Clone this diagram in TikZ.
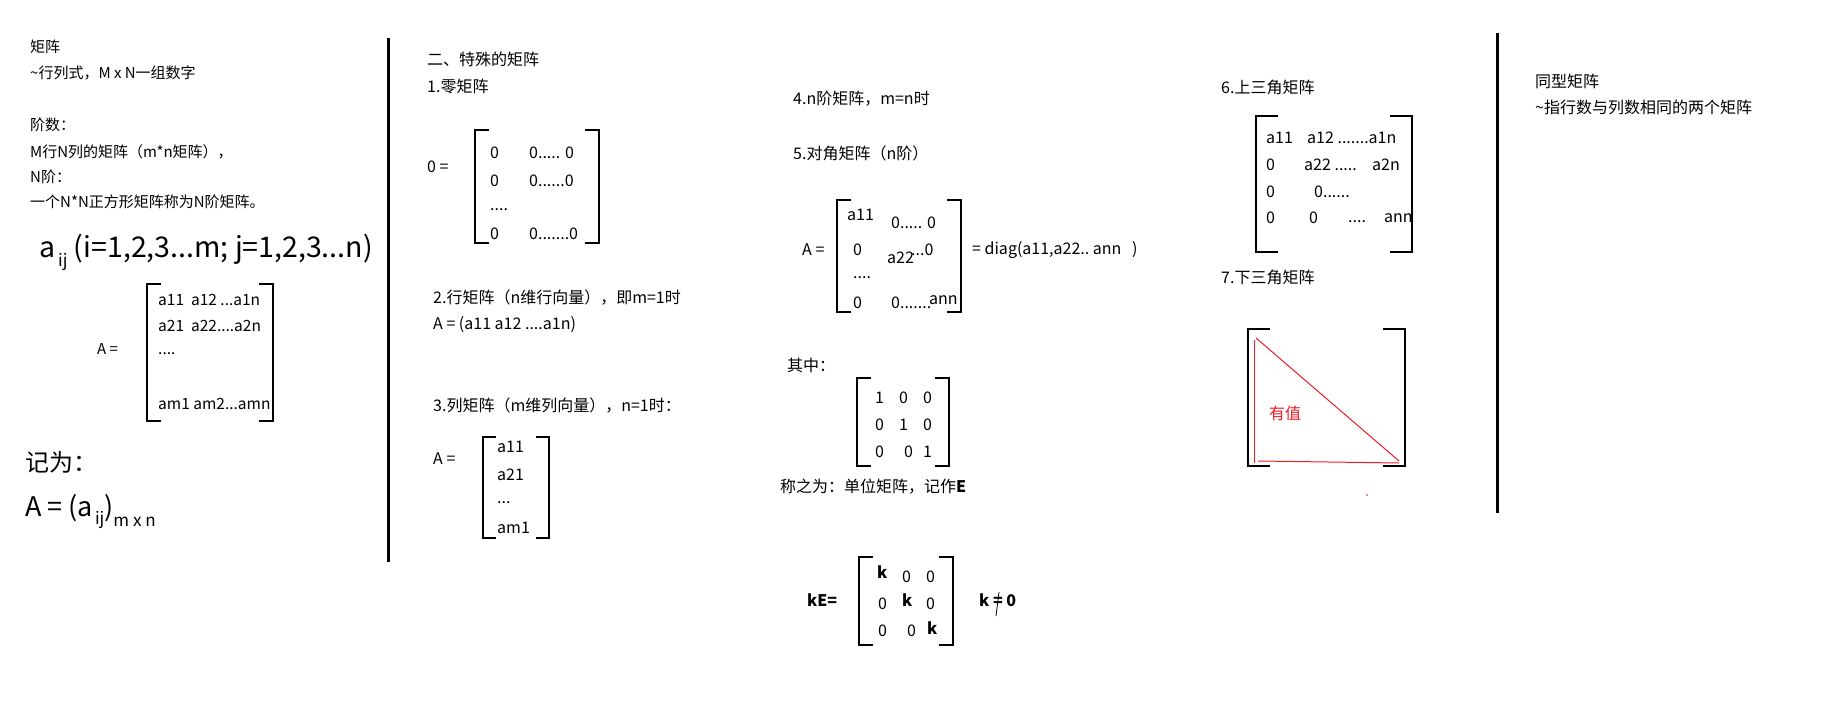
\documentclass[tikz,border=0pt]{standalone}
\usepackage{fontspec}
\setmainfont{Noto Sans CJK SC}
\usepackage{tikz}
\definecolor{mkred}{RGB}{237,28,36}
\tikzset{
  txa/.style={anchor=west, inner sep=0pt, font=\fontsize{15}{18}\selectfont},
  txb/.style={anchor=west, inner sep=0pt, font=\fontsize{16}{19}\selectfont},
  ent/.style={anchor=west, inner sep=0pt, font=\fontsize{15.5}{18}\selectfont},
  bent/.style={anchor=west, inner sep=0pt, font=\fontsize{16}{19}\selectfont\bfseries},
  brack/.style={line width=1.2pt},
  divider/.style={line width=3pt},
}
\newcommand{\mbrack}[5]{%
  \draw[brack] (#1+#5,#3) -- (#1,#3) -- (#1,#4) -- (#1+#5,#4);
  \draw[brack] (#2-#5,#3) -- (#2,#3) -- (#2,#4) -- (#2-#5,#4);}
\begin{document}
\begin{tikzpicture}[x=1pt,y=-1pt]
  \useasboundingbox (0,0) rectangle (1826,714);
  \draw[divider] (388,38) -- (388,562);
  \draw[divider] (1497,33) -- (1497,513);

  \node[txa] (jz) at (30,47) {矩阵};
  \node[txa] (jzdef) at (30,73) {\textasciitilde 行列式，M x N一组数字};
  \node[txa] (js) at (30,125) {阶数：};
  \node[txa] (jsdef) at (30,152) {M行N列的矩阵（m*n矩阵），};
  \node[txa] (nj) at (30,177) {N阶：};
  \node[txa] (njdef) at (30,202) {一个N*N正方形矩阵称为N阶矩阵。};
  \node[anchor=base west, inner sep=0pt, font=\fontsize{28.5}{32}\selectfont] (aij) at (39,258)
    {a\kern3pt\raisebox{-0.3em}{\fontsize{17}{20}\selectfont ij} (i=1,2,3...m; j=1,2,3...n)};
  \node[txa] (aeq) at (97,349) {A =};
  \mbrack{147}{273}{284}{421}{14}
  \node[ent] (a1) at (158,300) {a11\ \ a12 ...a1n};
  \node[ent] (a2) at (158,326) {a21\ \ a22....a2n};
  \node[ent] (a3) at (158,354) {....};
  \node[ent] (a4) at (158,404) {am1 am2...amn};
  \node[anchor=west, inner sep=0pt, font=\fontsize{24}{28}\selectfont] (jw) at (25,462) {记为：};
  \node[anchor=base west, inner sep=0pt, font=\fontsize{27}{31}\selectfont] (adef) at (25,516)
    {A = (a\kern2pt\raisebox{-0.3em}{\fontsize{17}{20}\selectfont ij})\raisebox{-0.4em}{\fontsize{17}{20}\selectfont m x n}};

  \node[txb] (ts) at (427,59) {二、特殊的矩阵};
  \node[txb] (lj) at (427,86) {1.零矩阵};
  \node[txb] (leq) at (427,167) {0 =};
  \mbrack{475}{599}{130}{243}{14}
  \node[txb] (l11) at (490,153) {0};
  \node[txb] (l12) at (529,153) {0..... 0};
  \node[txb] (l21) at (490,181) {0};
  \node[txb] (l22) at (529,181) {0......0};
  \node[txb] (l31) at (490,210) {....};
  \node[txb] (l41) at (490,234) {0};
  \node[txb] (l42) at (529,234) {0.......0};
  \node[txb] (hj) at (433,298) {2.行矩阵（n维行向量），即m=1时};
  \node[txb] (hjdef) at (433,325) {A = (a11 a12 ....a1n)};
  \node[txb] (lie) at (433,406) {3.列矩阵（m维列向量），n=1时：};
  \node[txb] (lieq) at (433,459) {A =};
  \mbrack{483}{549}{437}{538}{13}
  \node[txb] (c1) at (497,447) {a11};
  \node[txb] (c2) at (497,475) {a21};
  \node[txb] (c3) at (497,503) {...};
  \node[txb] (c4) at (497,528) {am1};

  \node[txb] (nj4) at (793,99) {4.n阶矩阵，m=n时};
  \node[txb] (dj) at (793,153) {5.对角矩阵（n阶）};
  \node[txb] (deq) at (802,250) {A =};
  \mbrack{837}{961}{200}{312}{14}
  \node[txb] (d11) at (847,215) {a11};
  \node[txb] (d12) at (891,223) {0..... 0};
  \node[txb] (d21) at (853,250) {0};
  \node[txb] (d22) at (887,258) {a22};
  \node[txb] (d23) at (911,250) {...0};
  \node[txb] (d31) at (853,278) {....};
  \node[txb] (d41) at (853,303) {0};
  \node[txb] (d42) at (891,303) {0.......};
  \node[txb] (d43) at (929,300) {ann};
  \node[txb] (diag) at (972,250) {= diag(a11,a22..\ ann\ \ \ )};
  \node[txb] (qz) at (787,365) {其中：};
  \mbrack{857}{949}{378}{466}{14}
  \node[txb] (e11) at (875,398) {1};
  \node[txb] (e12) at (899,398) {0};
  \node[txb] (e13) at (923,398) {0};
  \node[txb] (e21) at (875,425) {0};
  \node[txb] (e22) at (899,425) {1};
  \node[txb] (e23) at (923,425) {0};
  \node[txb] (e31) at (875,452) {0};
  \node[txb] (e32) at (904,452) {0};
  \node[txb] (e33) at (923,452) {1};
  \node[txb] (dw) at (780,487) {称之为：单位矩阵，记作\textbf{E}};
  \node[bent] (ke) at (807,600) {kE=};
  \mbrack{859}{953}{557}{645}{14}
  \node[bent] (k11) at (877,572) {k};
  \node[txb] (k12) at (902,577) {0};
  \node[txb] (k13) at (926,577) {0};
  \node[txb] (k21) at (878,604) {0};
  \node[bent] (k22) at (902,600) {k};
  \node[txb] (k23) at (926,604) {0};
  \node[txb] (k31) at (878,631) {0};
  \node[txb] (k32) at (907,631) {0};
  \node[bent] (k33) at (927,628) {k};
  \node[bent] (kne) at (979,600) {k\ =\ 0};
  \draw[line width=0.8pt] (999,592) -- (996,616);

  \node[txb] (sj) at (1221,87) {6.上三角矩阵};
  \mbrack{1256}{1412}{116}{252}{22}
  \node[txb] (u11) at (1266,138) {a11};
  \node[txb] (u12) at (1307,138) {a12 .......a1n};
  \node[txb] (u21) at (1266,165) {0};
  \node[txb] (u22) at (1304,165) {a22 .....};
  \node[txb] (u23) at (1372,165) {a2n};
  \node[txb] (u31) at (1266,192) {0};
  \node[txb] (u32) at (1314,192) {0......};
  \node[txb] (u41) at (1266,218) {0};
  \node[txb] (u42) at (1309,218) {0};
  \node[txb] (u43) at (1348,222) {....};
  \node[txb] (u44) at (1384,218) {ann};
  \node[txb] (xj) at (1221,277) {7.下三角矩阵};
  \mbrack{1248}{1405}{329}{466}{22}
  \draw[mkred, line width=1pt] (1254,340) -- (1254,463);
  \draw[mkred, line width=1pt] (1256,338) -- (1399,461);
  \draw[mkred, line width=1pt] (1258,461) -- (1399,463);
  \node[txb, text=mkred] (yz) at (1269,413) {有值};
  \fill[mkred] (1367,495) circle (0.8);

  \node[txb] (tx) at (1535,81) {同型矩阵};
  \node[txb] (txdef) at (1535,107) {\textasciitilde 指行数与列数相同的两个矩阵};
\end{tikzpicture}
\end{document}
